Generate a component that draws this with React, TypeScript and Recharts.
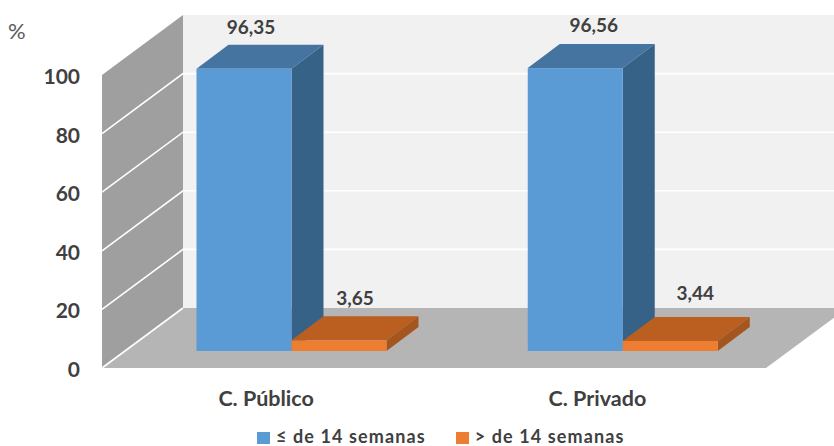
import React from "react";
import { BarChart, Bar, XAxis, YAxis, Legend, LabelList, Customized } from "recharts";

const categories = ["C. Público", "C. Privado"];
const upTo14Weeks = [96.35, 96.56];
const over14Weeks = [3.65, 3.44];
const yTicks = [0, 20, 40, 60, 80, 100];

const data = categories.map((name, i) => ({
  name,
  upTo14: upTo14Weeks[i],
  over14: over14Weeks[i],
}));

const WIDTH = 834;
const HEIGHT = 446;
const FONT = "Lato, sans-serif";
const TEXT = "#404040";

// plot frame of the pseudo 3D box
const PLOT_TOP = 75;
const PLOT_BOTTOM = 368;
const WALL_X = 102;
const WALL_DX = 81;
const WALL_DY = 60;
const FLOOR_RIGHT = 766;
// bars stand in the middle of the floor
const BAR_LIFT = 17;
const BAR_DX = 32;
const BAR_DY = 24;

const yFor = (v: number) => PLOT_BOTTOM - (v / 100) * (PLOT_BOTTOM - PLOT_TOP);
const pts = (list: number[][]) => list.map((p) => p.join(",")).join(" ");

const fmt = (v: number) => v.toFixed(2).replace(".", ",");

const Room = () => {
  const backX = WALL_X + WALL_DX;
  const backTop = yFor(100) - WALL_DY;
  const backBottom = PLOT_BOTTOM - WALL_DY;
  return (
    <g>
      <rect x={backX} y={backTop} width={WIDTH - backX} height={backBottom - backTop} fill="#f1f1f1" />
      <polygon
        points={pts([
          [WALL_X, yFor(100)],
          [backX, backTop],
          [backX, backBottom],
          [WALL_X, PLOT_BOTTOM],
        ])}
        fill="#9f9f9f"
      />
      <polygon
        points={pts([
          [WALL_X, PLOT_BOTTOM],
          [backX, backBottom],
          [FLOOR_RIGHT + WALL_DX, backBottom],
          [FLOOR_RIGHT, PLOT_BOTTOM],
        ])}
        fill="#b5b5b5"
      />
      {yTicks.slice(0, -1).map((t) => (
        <polyline
          key={t}
          points={pts([
            [WALL_X, yFor(t)],
            [backX, yFor(t) - WALL_DY],
            ...(t === 0 ? [] : [[WIDTH, yFor(t) - WALL_DY]]),
          ])}
          fill="none"
          stroke="#ffffff"
          strokeWidth={1.6}
        />
      ))}
      <text x={8} y={39} fontFamily={FONT} fontSize={22} fill="#595959">
        %
      </text>
    </g>
  );
};

// front, top and side faces of one bar
const Block = ({ x, y, width, height, fill, topFill, sideFill }: any) => {
  const front = y - BAR_LIFT;
  const bottom = front + height;
  const right = x + width;
  return (
    <g>
      <polygon
        points={pts([
          [x, front],
          [x + BAR_DX, front - BAR_DY],
          [right + BAR_DX, front - BAR_DY],
          [right, front],
        ])}
        fill={topFill}
      />
      <polygon
        points={pts([
          [right, front],
          [right + BAR_DX, front - BAR_DY],
          [right + BAR_DX, bottom - BAR_DY],
          [right, bottom],
        ])}
        fill={sideFill}
      />
      <rect x={x} y={front} width={width} height={height} fill={fill} />
    </g>
  );
};

const valueLabel = (nudgeX: number[], nudgeY: number[]) => (props: any) => {
  const { x, y, width, value, index } = props;
  return (
    <text
      x={x + width / 2 + nudgeX[index]}
      y={y - nudgeY[index]}
      textAnchor="middle"
      fontFamily={FONT}
      fontWeight={700}
      fontSize={19}
      fill={TEXT}
    >
      {fmt(value)}
    </text>
  );
};

const YTick = ({ y, payload }: any) => (
  <text x={80} y={y + 9} textAnchor="end" fontFamily={FONT} fontWeight={700} fontSize={21} fill={TEXT}>
    {payload.value}
  </text>
);

const XTick = ({ x, payload }: any) => (
  <text x={x - 25} y={406} textAnchor="middle" fontFamily={FONT} fontWeight={700} fontSize={21.5} fill={TEXT}>
    {payload.value}
  </text>
);

const LegendRow = ({ payload }: any) => (
  <div style={{ display: "flex", fontFamily: FONT, fontWeight: 700, fontSize: 18, color: TEXT, lineHeight: "16px" }}>
    {(payload || []).map((item: any, i: number) => (
      <div key={item.value} style={{ display: "flex", alignItems: "flex-end", marginRight: i === 0 ? 30 : 0 }}>
        <span style={{ width: 13, height: 12, background: item.color, marginRight: 6 }} />
        <span style={{ letterSpacing: 1.1, whiteSpace: "nowrap" }}>{item.value}</span>
      </div>
    ))}
  </div>
);

export default function App() {
  return (
    <div style={{ width: WIDTH, height: HEIGHT, position: "relative", overflow: "hidden" }}>
      <style>{"body{margin:0;background:#fff}"}</style>
      <BarChart
        width={WIDTH}
        height={HEIGHT}
        data={data}
        barSize={95}
        barGap={0}
        margin={{ top: PLOT_TOP, right: 46, bottom: 0, left: 0 }}
      >
        <Customized component={Room} />
        <XAxis dataKey="name" height={HEIGHT - PLOT_BOTTOM} axisLine={false} tickLine={false} tick={<XTick />} />
        <YAxis width={125.5} domain={[0, 100]} ticks={yTicks} axisLine={false} tickLine={false} tick={<YTick />} />
        <Legend
          layout="horizontal"
          verticalAlign="middle"
          align="center"
          itemSorter={null}
          content={<LegendRow />}
          wrapperStyle={{ top: 428, left: 257, width: 420, height: 16 }}
        />
        <Bar
          dataKey="upTo14"
          name="≤ de 14 semanas"
          fill="#5b9bd5"
          isAnimationActive={false}
          shape={<Block topFill="#44749f" sideFill="#376287" />}
        >
          <LabelList dataKey="upTo14" content={valueLabel([7, 18.5], [52, 53])} />
        </Bar>
        <Bar
          dataKey="over14"
          name="> de 14 semanas"
          fill="#ed7d31"
          isAnimationActive={false}
          shape={<Block topFill="#bb5f20" sideFill="#a5561f" />}
        >
          <LabelList dataKey="over14" content={valueLabel([16, 25], [52, 58])} />
        </Bar>
      </BarChart>
    </div>
  );
}
